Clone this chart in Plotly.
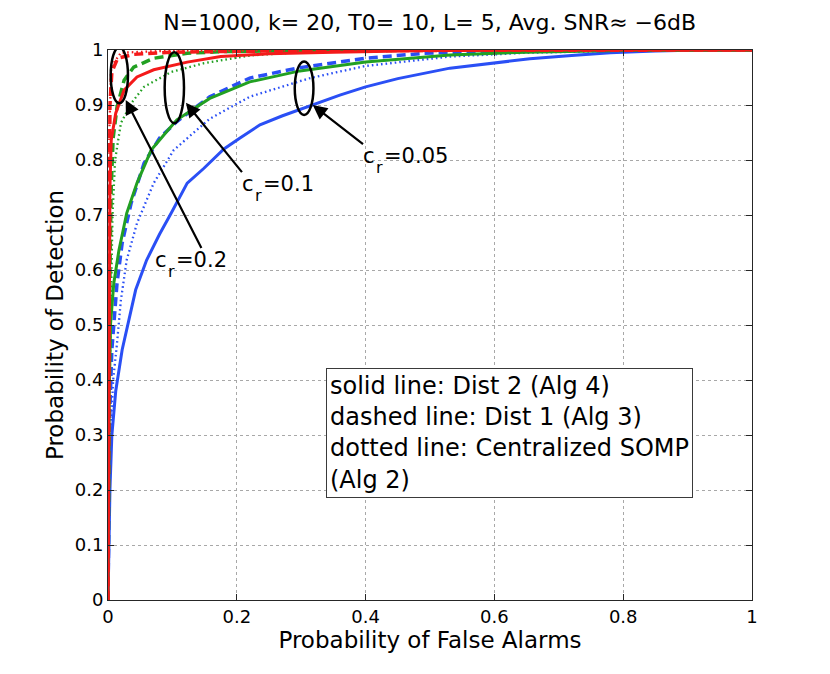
import plotly.graph_objects as go

# ---- data ----
# c_r = 0.05 (blue)
blue_solid_x = [0, 0.001, 0.003, 0.006, 0.012, 0.022, 0.033, 0.043, 0.06, 0.08, 0.098, 0.123, 0.149, 0.18, 0.205, 0.236, 0.27, 0.314, 0.36, 0.4, 0.45, 0.531, 0.6, 0.655, 0.72, 0.78, 0.85, 0.92, 1.0]
blue_solid_y = [0, 0.1, 0.2, 0.3, 0.38, 0.455, 0.515, 0.564, 0.618, 0.665, 0.703, 0.758, 0.785, 0.82, 0.84, 0.864, 0.88, 0.899, 0.918, 0.933, 0.948, 0.967, 0.977, 0.984, 0.99, 0.995, 0.998, 1.0, 1.0]
blue_dash_x = [0, 0.001, 0.003, 0.006, 0.009, 0.014, 0.022, 0.036, 0.056, 0.08, 0.107, 0.158, 0.22, 0.298, 0.4, 0.49, 0.6, 0.75, 1.0]
blue_dash_y = [0, 0.2, 0.35, 0.455, 0.503, 0.576, 0.649, 0.722, 0.794, 0.84, 0.87, 0.915, 0.949, 0.968, 0.985, 0.994, 0.998, 1.0, 1.0]
blue_dot_x = [0, 0.001, 0.004, 0.008, 0.014, 0.02, 0.029, 0.045, 0.071, 0.102, 0.158, 0.22, 0.314, 0.4, 0.531, 0.65, 0.78, 0.9, 1.0]
blue_dot_y = [0, 0.15, 0.3, 0.4, 0.467, 0.545, 0.618, 0.685, 0.758, 0.818, 0.875, 0.915, 0.949, 0.971, 0.988, 0.995, 0.998, 1.0, 1.0]

# c_r = 0.1 (green)
green_solid_x = [0, 0.001, 0.002, 0.004, 0.009, 0.017, 0.029, 0.045, 0.067, 0.09, 0.107, 0.158, 0.22, 0.298, 0.4, 0.531, 0.65, 0.8, 1.0]
green_solid_y = [0, 0.2, 0.38, 0.503, 0.576, 0.636, 0.703, 0.758, 0.818, 0.85, 0.873, 0.912, 0.942, 0.962, 0.978, 0.991, 0.996, 0.999, 1.0]
green_dash_x = [0, 0.001, 0.002, 0.003, 0.005, 0.008, 0.014, 0.025, 0.04, 0.071, 0.123, 0.175, 0.3, 0.5, 1.0]
green_dash_y = [0, 0.25, 0.45, 0.6, 0.75, 0.84, 0.896, 0.945, 0.969, 0.985, 0.994, 0.997, 0.999, 1.0, 1.0]
green_dot_x = [0, 0.001, 0.002, 0.004, 0.007, 0.011, 0.02, 0.036, 0.056, 0.098, 0.149, 0.22, 0.3, 0.5, 1.0]
green_dot_y = [0, 0.2, 0.35, 0.5, 0.7, 0.8, 0.867, 0.903, 0.933, 0.96, 0.976, 0.99, 0.996, 0.999, 1.0]

# c_r = 0.2 (red)
red_solid_x = [0, 0.001, 0.002, 0.003, 0.005, 0.012, 0.025, 0.045, 0.071, 0.123, 0.175, 0.25, 0.35, 0.5, 0.7, 1.0]
red_solid_y = [0, 0.3, 0.6, 0.75, 0.836, 0.885, 0.927, 0.951, 0.964, 0.978, 0.988, 0.993, 0.996, 0.999, 1.0, 1.0]
red_dash_x = [0, 0.001, 0.002, 0.003, 0.006, 0.015, 0.04, 0.1, 0.3, 1.0]
red_dash_y = [0, 0.4, 0.7, 0.9, 0.96, 0.985, 0.992, 0.996, 0.999, 1.0]
red_dot_x = [0, 0.001, 0.002, 0.005, 0.02, 0.1, 1.0]
red_dot_y = [0, 0.5, 0.85, 0.97, 0.995, 0.999, 1.0]

x_ticks = [0, 0.2, 0.4, 0.6, 0.8, 1]
x_tick_labels = ["0", "0.2", "0.4", "0.6", "0.8", "1"]
y_ticks = [0, 0.1, 0.2, 0.3, 0.4, 0.5, 0.6, 0.7, 0.8, 0.9, 1]
y_tick_labels = ["0", "0.1", "0.2", "0.3", "0.4", "0.5", "0.6", "0.7", "0.8", "0.9", "1"]

title_text = "N=1000, k= 20, T0= 10, L= 5, Avg. SNR\u2248 \u22126dB"
x_label = "Probability of False Alarms"
y_label = "Probability of Detection"
box_text = "solid line: Dist 2 (Alg 4)<br>dashed line: Dist 1 (Alg 3)<br>dotted line: Centralized SOMP<br>(Alg 2)"
# label "c_r=value" split in three pieces: "c", subscript "r", "=value"
cr_values = ["=0.2", "=0.1", "=0.05"]

BLUE = "#2a4ff5"
GREEN = "#22a022"
RED = "#f41a1a"
FONT = "DejaVu Sans, Liberation Sans, Arial, sans-serif"

SOLID = dict(width=3)
DASH = dict(width=3.5, dash="9px,5px")
DOT = dict(width=2.3, dash="1.6px,3px")

series = [
    (blue_solid_x, blue_solid_y, BLUE, SOLID),
    (blue_dot_x, blue_dot_y, BLUE, DOT),
    (blue_dash_x, blue_dash_y, BLUE, DASH),
    (green_dot_x, green_dot_y, GREEN, DOT),
    (green_solid_x, green_solid_y, GREEN, SOLID),
    (green_dash_x, green_dash_y, GREEN, DASH),
    (red_dot_x, red_dot_y, RED, DOT),
    (red_dash_x, red_dash_y, RED, DASH),
    (red_solid_x, red_solid_y, RED, SOLID),
]

fig = go.Figure()
for xs, ys, col, sty in series:
    fig.add_trace(go.Scatter(x=xs, y=ys, mode="lines", line=dict(color=col, **sty),
                             showlegend=False, hoverinfo="skip"))

axis_common = dict(
    range=[0, 1], showgrid=True, gridcolor="#a8a8a8", griddash="dot", gridwidth=1,
    zeroline=False, showline=True, linecolor="#262626", linewidth=1, mirror="ticks",
    ticks="inside", ticklen=6, tickcolor="#262626",
    tickfont=dict(family=FONT, size=18, color="black"),
)

# page body has an 8px margin; the figure is sized to fill the rest of the window
fig.update_layout(
    width=822, height=666,
    paper_bgcolor="white", plot_bgcolor="white",
    margin=dict(l=100, r=78, t=42, b=74, autoexpand=False),
    title=dict(text=title_text, x=0.513, xanchor="center", y=0.978, yanchor="middle",
               yref="container", font=dict(family=FONT, size=22, color="black")),
    xaxis=dict(tickvals=x_ticks, ticktext=x_tick_labels,
               title=dict(text=x_label, font=dict(family=FONT, size=23, color="black"), standoff=0),
               **axis_common),
    yaxis=dict(tickvals=y_ticks, ticktext=y_tick_labels,
               title=dict(text=y_label, font=dict(family=FONT, size=23, color="black"), standoff=4),
               **axis_common),
)

# ellipses around the curve groups
ellipses = [
    (0.0042, 0.031, 0.903, 1.005),
    (0.088, 0.118, 0.867, 0.996),
    (0.290, 0.319, 0.882, 0.979),
]
for x0, x1, y0, y1 in ellipses:
    fig.add_shape(type="circle", xref="x", yref="y", x0=x0, x1=x1, y0=y0, y1=y1,
                  line=dict(color="black", width=2.5), layer="above")

MAIN = dict(family=FONT, size=21, color="black")
SUB = dict(family=FONT, size=16, color="black")
TIGHT = dict(borderpad=0, borderwidth=0, showarrow=False, xref="x", yref="y",
             xanchor="left", yanchor="top")

# arrow heads and label anchors (arrow tails)
arrow_heads = [(0.0275, 0.909), (0.121, 0.904), (0.318, 0.900)]
label_pos = [(0.145, 0.640), (0.208, 0.778), (0.396, 0.829)]

# c_r=0.2 : arrow attached to the "=0.2" piece (centred on the tail)
(hx, hy), (lx, ly) = arrow_heads[0], label_pos[0]
fig.add_annotation(x=hx, y=hy, ax=lx, ay=ly, xref="x", yref="y", axref="x", ayref="y",
                   text=cr_values[0], showarrow=True, arrowhead=2, arrowsize=1.3, arrowwidth=2.2,
                   arrowcolor="black", standoff=0, borderpad=0, borderwidth=0,
                   xanchor="center", yanchor="top", font=MAIN)
fig.add_annotation(x=lx, y=ly, text="r", xshift=-33.5, yshift=-13.7, font=SUB, **TIGHT)
fig.add_annotation(x=lx, y=ly, text="c", xshift=-46.5, font=MAIN, **TIGHT)

# c_r=0.1 and c_r=0.05 : arrow attached to the "c" piece (top-left corner on the tail)
for val, (hx, hy), (lx, ly) in zip(cr_values[1:], arrow_heads[1:], label_pos[1:]):
    fig.add_annotation(x=hx, y=hy, ax=lx, ay=ly, xref="x", yref="y", axref="x", ayref="y",
                       text="c", showarrow=True, arrowhead=2, arrowsize=1.3, arrowwidth=2.2,
                       arrowcolor="black", standoff=0, borderpad=0, borderwidth=0,
                       xanchor="left", yanchor="top", font=MAIN)
    fig.add_annotation(x=lx, y=ly, text="r", xshift=12.8, yshift=-13.7, font=SUB, **TIGHT)
    fig.add_annotation(x=lx, y=ly, text=val, xshift=20.6, font=MAIN, **TIGHT)

fig.add_annotation(x=0.623, y=0.303, xref="x", yref="y", text=box_text, showarrow=False,
                   align="left", xanchor="center", yanchor="middle",
                   bordercolor="#3a3a3a", borderwidth=1, borderpad=3, bgcolor="white",
                   font=dict(family=FONT, size=24, color="black"))

fig.write_html("out.html")
